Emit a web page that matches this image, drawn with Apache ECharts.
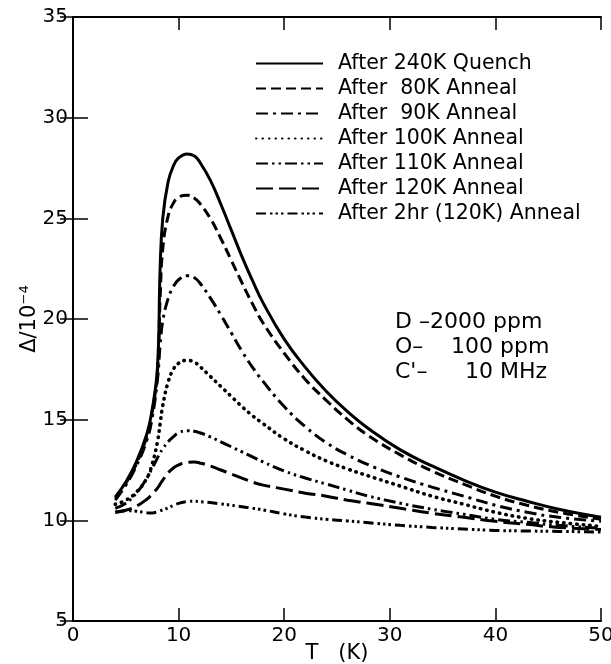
<!DOCTYPE html>
<html>
<head>
<meta charset="utf-8">
<script src="https://cdn.jsdelivr.net/npm/echarts@6/dist/echarts.min.js"></script>
<style>html,body{margin:0;padding:0;background:#fff}#c{width:611px;height:664px}</style>
</head>
<body>
<div id="c"></div>
<script>
// Temperature grid (K)
var temps = [4, 5, 6, 7, 7.5, 8, 8.25, 8.5, 9, 9.5, 10, 10.8, 11.5, 12, 13, 14, 15, 16, 17, 18, 20, 22, 24, 26, 28, 31, 34, 37, 40, 43, 46, 50];
// Δ/10^-4 values per curve
var quench240 = [11.15, 11.9, 12.9, 14.3, 15.5, 17.6, 22.5, 25.0, 26.8, 27.6, 28.0, 28.2, 28.1, 27.8, 26.9, 25.7, 24.4, 23.1, 21.9, 20.8, 19.0, 17.6, 16.4, 15.4, 14.55, 13.5, 12.7, 12.0, 11.4, 10.95, 10.55, 10.15];
var anneal80 = [11.1, 11.85, 12.8, 14.2, 15.4, 17.4, 21.0, 23.5, 25.1, 25.75, 26.05, 26.15, 26.0, 25.75, 25.0, 24.0, 22.9, 21.8, 20.75, 19.8, 18.3, 17.0, 15.95, 15.0, 14.2, 13.25, 12.45, 11.8, 11.2, 10.75, 10.4, 10.05];
var anneal90 = [11.0, 11.75, 12.7, 14.0, 15.1, 17.0, 18.7, 19.9, 21.0, 21.6, 21.95, 22.15, 22.05, 21.8, 21.05, 20.2, 19.3, 18.4, 17.6, 16.9, 15.65, 14.65, 13.85, 13.25, 12.75, 12.15, 11.65, 11.2, 10.75, 10.4, 10.15, 9.95];
var anneal100 = [10.8, 11.0, 11.4, 12.1, 12.8, 13.9, 14.8, 15.7, 16.85, 17.5, 17.8, 17.95, 17.85, 17.65, 17.15, 16.65, 16.15, 15.65, 15.2, 14.8, 14.05, 13.45, 12.95, 12.55, 12.2, 11.7, 11.2, 10.8, 10.4, 10.1, 9.9, 9.7];
var anneal110 = [10.6, 10.85, 11.35, 12.1, 12.6, 13.1, 13.35, 13.55, 13.9, 14.15, 14.35, 14.45, 14.42, 14.35, 14.15, 13.9, 13.65, 13.4, 13.15, 12.9, 12.45, 12.1, 11.8, 11.5, 11.2, 10.85, 10.55, 10.3, 10.05, 9.9, 9.75, 9.6];
var anneal120 = [10.4, 10.5, 10.7, 11.05, 11.3, 11.6, 11.8, 12.0, 12.35, 12.6, 12.75, 12.88, 12.9, 12.85, 12.7, 12.5, 12.3, 12.1, 11.9, 11.75, 11.55, 11.35, 11.2, 11.0, 10.85, 10.6, 10.35, 10.15, 9.95, 9.8, 9.65, 9.55];
var anneal2hr = [10.4, 10.48, 10.45, 10.38, 10.37, 10.42, 10.47, 10.52, 10.62, 10.74, 10.84, 10.93, 10.95, 10.93, 10.88, 10.82, 10.75, 10.68, 10.6, 10.52, 10.32, 10.16, 10.05, 9.97, 9.88, 9.75, 9.65, 9.57, 9.5, 9.47, 9.45, 9.42];

var seriesNames = ['After 240K Quench', 'After  80K Anneal', 'After  90K Anneal', 'After 100K Anneal', 'After 110K Anneal', 'After 120K Anneal', 'After 2hr (120K) Anneal'];
var seriesValues = [quench240, anneal80, anneal90, anneal100, anneal110, anneal120, anneal2hr];
var dashes = ['solid', [10, 5], [12, 5, 3, 5], [0.5, 6], [12, 4, 2.5, 4, 2.5, 4], [17, 6], [10, 4, 2.5, 3, 2.5, 3, 2.5, 4]];

var xTicks = [0, 10, 20, 30, 40, 50];
var yTicks = [5, 10, 15, 20, 25, 30, 35];

var FONT = 'DejaVu Sans';

function pairs(vals) {
  return temps.map(function (t, i) { return [t, vals[i]]; });
}

var series = seriesNames.map(function (n, i) {
  return {
    name: n,
    type: 'line',
    data: pairs(seriesValues[i]),
    showSymbol: false,
    symbol: 'none',
    smooth: 0.45,
    silent: true,
    itemStyle: { color: '#000', opacity: 0 },
    lineStyle: {
      color: '#000',
      width: i === 3 ? 3.6 : 3,
      type: dashes[i],
      cap: i === 3 ? 'round' : 'butt'
    }
  };
});

var chart = echarts.init(document.getElementById('c'), null, { renderer: 'canvas' });
var axisCommon = {
  type: 'value',
  splitLine: { show: false },
  axisLine: { show: true, lineStyle: { color: '#000', width: 2 } },
  axisTick: { show: true, inside: true, length: 13, lineStyle: { color: '#000', width: 1.5 } }
};
chart.setOption({
  animation: false,
  backgroundColor: '#fff',
  grid: { left: 73, top: 17, width: 528, height: 604, containLabel: false, outerBoundsMode: 'none' },
  xAxis: [
    Object.assign({}, axisCommon, {
      position: 'bottom', min: xTicks[0], max: xTicks[xTicks.length - 1], interval: 10,
      axisLabel: { color: '#000', fontSize: 20, fontFamily: FONT, margin: 5 },
      name: 'T   (K)', nameLocation: 'middle', nameGap: 22, nameMoveOverlap: false,
      nameTextStyle: { color: '#000', fontSize: 21, fontFamily: FONT }
    }),
    Object.assign({}, axisCommon, {
      position: 'top', min: xTicks[0], max: xTicks[xTicks.length - 1], interval: 10,
      axisLabel: { show: false }
    })
  ],
  yAxis: [
    Object.assign({}, axisCommon, {
      position: 'left', min: yTicks[0], max: yTicks[yTicks.length - 1], interval: 5,
      axisTick: { show: true, inside: true, length: 15, lineStyle: { color: '#000', width: 1.5 } },
      axisLabel: { color: '#000', fontSize: 20, fontFamily: FONT, margin: 5 },
      name: 'Δ/10⁻⁴', nameLocation: 'middle', nameGap: 33, nameRotate: 90, nameMoveOverlap: false,
      nameTextStyle: { color: '#000', fontSize: 21, fontFamily: FONT }
    }),
    Object.assign({}, axisCommon, {
      position: 'right', min: yTicks[0], max: yTicks[yTicks.length - 1], interval: 5,
      axisLabel: { show: false }
    })
  ],
  legend: {
    orient: 'vertical',
    left: 255, top: 53, padding: 0,
    itemWidth: 67, itemHeight: 14, itemGap: 4,
    selectedMode: false,
    itemStyle: { opacity: 0 },
    textStyle: { color: '#000', fontSize: 20.5, fontFamily: FONT, padding: [0, 0, 0, 10] },
    data: seriesNames
  },
  graphic: [
    { type: 'text', left: 395, top: 311, style: { text: 'D –', fill: '#000', font: '22px "DejaVu Sans"' } },
    { type: 'text', left: 430, top: 311, style: { text: '2000 ppm', fill: '#000', font: '22px "DejaVu Sans"' } },
    { type: 'text', left: 395, top: 336, style: { text: 'O–', fill: '#000', font: '22px "DejaVu Sans"' } },
    { type: 'text', left: 451, top: 336, style: { text: '100 ppm', fill: '#000', font: '22px "DejaVu Sans"' } },
    { type: 'text', left: 395, top: 361, style: { text: "C'–", fill: '#000', font: '22px "DejaVu Sans"' } },
    { type: 'text', left: 465, top: 361, style: { text: '10 MHz', fill: '#000', font: '22px "DejaVu Sans"' } }
  ],
  series: series
});
</script>
</body>
</html>
